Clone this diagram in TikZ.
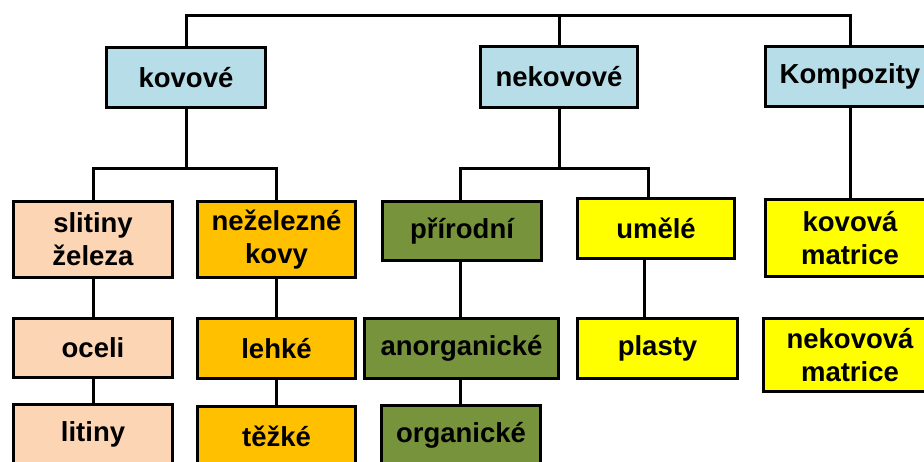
\documentclass[tikz,border=0pt]{standalone}
\usepackage{fontspec}
\setmainfont{Liberation Sans}
\definecolor{cblue}{HTML}{B7DEE8}
\definecolor{cpeach}{HTML}{FCD5B5}
\definecolor{corange}{HTML}{FFC000}
\definecolor{cgreen}{HTML}{77933C}
\definecolor{cyellow}{HTML}{FFFF00}
\tikzset{
  box/.style={draw=black, line width=3pt, inner sep=0pt, align=center,
    font=\fontsize{27.5}{33}\selectfont\bfseries, text=black},
  conn/.style={draw=black, line width=3pt},
}
\begin{document}
\begin{tikzpicture}[x=1pt, y=-1pt]
\fill[white] (0,0) rectangle (924,461);
\useasboundingbox (0,0) rectangle (924,461);
\clip (0,0) rectangle (924,461);
% level 1
\node[box, fill=cblue, minimum width=159pt, minimum height=60pt] (kov) at (186,77.5) {kovové};
\node[box, fill=cblue, minimum width=157pt, minimum height=61pt] (nekov) at (559,77) {nekovové};
\node[box, fill=cblue, minimum width=169pt, minimum height=60pt] (komp) at (850,76.5) {Kompozity};
% level 2
\node[box, fill=cpeach, minimum width=159pt, minimum height=76pt] (sli) at (93,239.5) {slitiny\\železa};
\node[box, fill=corange, minimum width=158pt, minimum height=76pt] (nez) at (276.5,239.5) {neželezné\\kovy};
\node[box, fill=cgreen, minimum width=159pt, minimum height=59pt] (pri) at (462,231) {přírodní};
\node[box, fill=cyellow, minimum width=157pt, minimum height=60pt] (ume) at (656,228.5) {umělé};
\node[box, fill=cyellow, minimum width=169pt, minimum height=77pt] (kmat) at (850,238) {kovová\\matrice};
% level 3
\node[box, fill=cpeach, minimum width=159pt, minimum height=59pt] (oce) at (93,348) {oceli};
\node[box, fill=corange, minimum width=158pt, minimum height=60pt] (leh) at (276.5,348.5) {lehké};
\node[box, fill=cgreen, minimum width=194pt, minimum height=60pt] (ano) at (461.5,348.5) {anorganické};
\node[box, fill=cyellow, minimum width=160pt, minimum height=60pt] (pla) at (657.5,348.5) {plasty};
\node[box, fill=cyellow, minimum width=173pt, minimum height=73pt] (nmat) at (850,355) {nekovová\\matrice};
% level 4
\node[box, fill=cpeach, minimum width=159pt, minimum height=59pt] (lit) at (93,434) {litiny};
\node[box, fill=corange, minimum width=158pt, minimum height=59pt] (tez) at (276.5,436) {těžké};
\node[box, fill=cgreen, minimum width=159pt, minimum height=59pt] (org) at (461,435) {organické};
% connectors
\coordinate (top) at (0,15);
\coordinate (mid) at (0,168);
\draw[conn] (kov.north) -- (kov.north |- top) -- (komp.north |- top) -- (komp.north);
\draw[conn] (nekov.north) -- (nekov.north |- top);
\draw[conn] (kov.south) -- (kov.south |- mid);
\draw[conn] (sli.north) -- (sli.north |- mid) -- (nez.north |- mid) -- (nez.north);
\draw[conn] (nekov.south) -- (nekov.south |- mid);
\draw[conn] ([xshift=-2pt]pri.north) -- ([xshift=-2pt]pri.north |- mid) -- ([xshift=-8pt]ume.north |- mid) -- ([xshift=-8pt]ume.north);
\draw[conn] (komp.south) -- (kmat.north);
\draw[conn] (sli.south) -- (oce.north);
\draw[conn] (oce.south) -- (lit.north);
\draw[conn] (nez.south) -- (leh.north);
\draw[conn] (leh.south) -- (tez.north);
\draw[conn] ([xshift=-2pt]pri.south) -- ([xshift=-2pt]pri.south |- ano.north);
\draw[conn] ([xshift=-1.5pt]ano.south) -- ([xshift=-1.5pt]ano.south |- org.north);
\draw[conn] ([xshift=-12pt]ume.south) -- ([xshift=-12pt]ume.south |- pla.north);
\end{tikzpicture}
\end{document}
